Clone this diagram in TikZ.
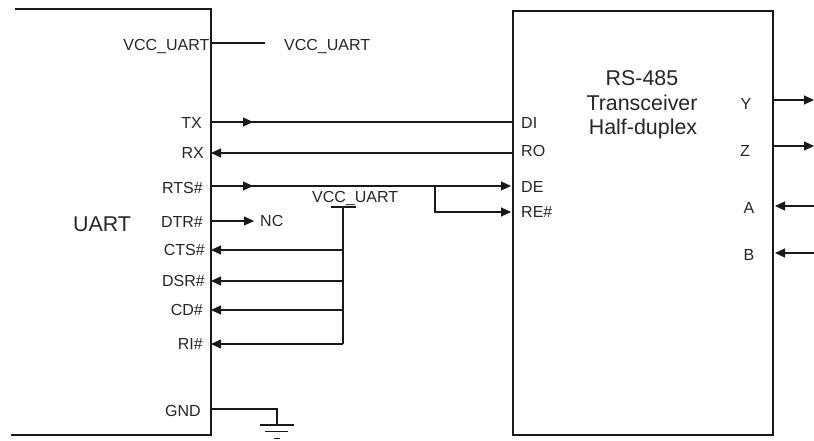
\documentclass[tikz,border=0pt]{standalone}
\usepackage{fontspec}
\setmainfont{Liberation Sans}
\usetikzlibrary{arrows.meta}
\begin{document}
\begin{tikzpicture}[x=1pt,y=-1pt,
  wire/.style={line width=1.2pt,draw=black!90},
  tip/.style={wire,-{Triangle[length=10pt,width=9pt]}},
  lab/.style={inner sep=0pt,text height=11pt,text depth=0pt,font=\fontsize{16pt}{18pt}\selectfont,text=black!85},
  lableft/.style={lab,anchor=west},
  labright/.style={lab,anchor=east},
  title/.style={inner sep=0pt,text height=15pt,text depth=0pt,font=\fontsize{21.4pt}{24pt}\selectfont,text=black!85},
  xbox/.style={draw=black!90,line width=1.3pt,minimum width=260pt,minimum height=424pt,inner sep=0pt}]
\useasboundingbox (0,0) rectangle (814,441);
% UART body (open on the left)
\coordinate (ut) at (15,9); \coordinate (utr) at (211,9);
\coordinate (ubr) at (211,435); \coordinate (ub) at (11,435);
\draw[wire,line width=1.3pt] (ut) -- (utr) -- (ubr) -- (ub);
\node[title] (uart) at (102,224) {UART};
% Transceiver
\node[xbox] (xc) at (643,223) {};
\node[title] (t1) at (642,78) {RS-485};
\node[title] (t2) at (642,103.5) {Transceiver};
\node[title] (t3) at (643,127) {Half-duplex};
% UART pin labels
\node[labright] (lvcc) at (209.5,45.5) {VCC\_UART};
\node[labright] (ltx) at (202,123) {TX};
\node[labright] (lrx) at (204,153) {RX};
\node[labright] (lrts) at (203,188) {RTS\#};
\node[labright] (ldtr) at (203,221.5) {DTR\#};
\node[labright] (lcts) at (205,250) {CTS\#};
\node[labright] (ldsr) at (205,281) {DSR\#};
\node[labright] (lcd) at (203,310) {CD\#};
\node[labright] (lri) at (203,344) {RI\#};
\node[labright] (lgnd) at (201,411) {GND};
% Free labels
\node[lableft] (vcca) at (284,45.5) {VCC\_UART};
\node[lableft] (vccb) at (312,197) {VCC\_UART};
\node[lableft] (nc) at (260,221) {NC};
% Transceiver pin labels
\node[lableft] (ldi) at (521,123) {DI};
\node[lableft] (lro) at (521,151) {RO};
\node[lableft] (lde) at (521,187) {DE};
\node[lableft] (lre) at (521,212) {RE\#};
\node[lab] (ly) at (746,104) {Y};
\node[lab] (lz) at (745,151) {Z};
\node[lab] (la) at (749,208) {A};
\node[lab] (lb) at (749,255) {B};
% Pin coordinates
\foreach \n/\y in {vc/43,tx/122,rx/153,rt/186,dt/221,ct/250,ds/281,cd/310,ri/344,gn/409}
  \coordinate (p\n) at (211,\y);
\foreach \n/\y in {di/122,ro/153}
  \coordinate (q\n) at (513,\y);
\coordinate (qde) at (511,186); \coordinate (qre) at (511,212);
\coordinate (vcend) at (265,43);
% VCC
\draw[wire] (pvc) -- (vcend);
% TX / RX
\coordinate (txm) at (253,122);
\draw[wire] (ptx) -- (qdi);
\draw[tip] (ptx) -- (txm);
\draw[tip] (qro) -- (prx);
% RTS
\coordinate (rtm) at (253,186);
\coordinate (br) at (435,186);
\coordinate (brd) at (435,212);
\draw[tip] (prt) -- (qde);
\draw[tip] (prt) -- (rtm);
\draw[tip] (br) -- (brd) -- (qre);
% DTR
\coordinate (dtend) at (254,221);
\draw[tip] (pdt) -- (dtend);
% VCC rail
\coordinate (vb) at (343,207);
\coordinate (vl) at (331,207); \coordinate (vr) at (356,207);
\coordinate (vct) at (343,250); \coordinate (vds) at (343,281);
\coordinate (vcd) at (343,310); \coordinate (vri) at (343,344);
\draw[wire] (vl) -- (vr);
\draw[wire] (vb) -- (vri);
\draw[tip] (vct) -- (pct);
\draw[tip] (vds) -- (pds);
\draw[tip] (vcd) -- (pcd);
\draw[tip] (vri) -- (pri);
% Ground
\coordinate (gc) at (277,409); \coordinate (gb) at (277,425);
\coordinate (g1l) at (260,425); \coordinate (g1r) at (294,425);
\coordinate (g2l) at (265,431.5); \coordinate (g2r) at (288,431.5);
\coordinate (g3l) at (274,438.5); \coordinate (g3r) at (280,438.5);
\draw[wire] (pgn) -- (gc) -- (gb);
\draw[wire] (g1l) -- (g1r);
\draw[wire] (g2l) -- (g2r);
\draw[wire] (g3l) -- (g3r);
% Outputs and inputs on the right
\foreach \n/\y in {y/100,z/146} {
  \coordinate (o\n) at (773,\y);
  \coordinate (e\n) at (814,\y);
  \draw[tip] (o\n) -- (e\n);
}
\foreach \n/\y in {a/206,b/253} {
  \coordinate (o\n) at (775,\y);
  \coordinate (e\n) at (814,\y);
  \draw[tip] (e\n) -- (o\n);
}
\end{tikzpicture}
\end{document}
